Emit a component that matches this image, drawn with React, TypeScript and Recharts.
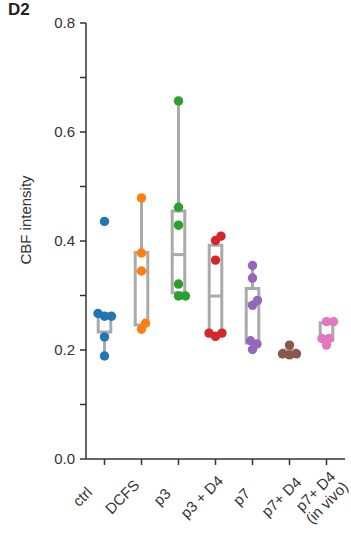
import { ComposedChart, Scatter, XAxis, YAxis, ReferenceArea, ReferenceLine } from "recharts";

const categories = ["ctrl", "DCFS", "p3", "p3 + D4", "p7", "p7+ D4", "p7+ D4\n(in vivo)"];
const colors = ["#1f77b4", "#ff7f0e", "#2ca02c", "#d62728", "#9467bd", "#8c564b", "#e377c2"];

const ctrlValues = [0.436, 0.262, 0.262, 0.267, 0.224, 0.189];
const dcfsValues = [0.479, 0.378, 0.345, 0.249, 0.238];
const p3Values = [0.657, 0.462, 0.429, 0.321, 0.299, 0.299];
const p3d4Values = [0.409, 0.401, 0.365, 0.231, 0.225, 0.231];
const p7Values = [0.355, 0.332, 0.291, 0.282, 0.217, 0.211, 0.201];
const p7d4Values = [0.209, 0.193, 0.191, 0.193];
const inVivoValues = [0.252, 0.252, 0.221, 0.221, 0.209];
const groups = [ctrlValues, dcfsValues, p3Values, p3d4Values, p7Values, p7d4Values, inVivoValues];

// box stats
const whiskerLow = [0.19, 0.238, 0.299, 0.225, 0.201, 0.191, 0.209];
const q1 = [0.233, 0.246, 0.305, 0.231, 0.213, 0.192, 0.218];
const median = [0.262, 0.345, 0.375, 0.299, 0.285, 0.193, 0.221];
const q3 = [0.267, 0.379, 0.455, 0.392, 0.313, 0.2, 0.25];
const whiskerHigh = [0.267, 0.479, 0.657, 0.409, 0.355, 0.209, 0.252];

const yTicks = [0, 0.1, 0.2, 0.3, 0.4, 0.5, 0.6, 0.7, 0.8];

const W = 351;
const H = 536;
const PX_PER_CAT = 37;
const PX_PER_UNIT = 545;
const BOX_HALF = 0.17;
const GRAY = "#aaaaaa";
const FONT = "'Liberation Sans', Arial, sans-serif";

// simple beeswarm: nudge overlapping points sideways
function swarm(values: number[], minDist = 7) {
  const order = values.map((v, i) => i).sort((a, b) => values[a] - values[b]);
  const placed: { x: number; y: number }[] = [];
  const offsets = new Array(values.length).fill(0);
  for (const i of order) {
    const y = values[i] * PX_PER_UNIT;
    let found = 0;
    outer: for (let s = 0; s < 40; s += 0.5) {
      for (const dx of s === 0 ? [0] : [s, -s]) {
        if (placed.every(p => Math.hypot(p.x - dx, p.y - y) >= minDist)) {
          found = dx;
          break outer;
        }
      }
    }
    placed.push({ x: found, y });
    offsets[i] = found / PX_PER_CAT;
  }
  return offsets;
}

// labels in the figure drift a little to the right of their ticks
function XTick({ x, y, payload }: any) {
  const idx = payload.value;
  const lines = categories[idx].split("\n");
  const dx = -22 + 2.8 * idx;
  return (
    <g transform={`translate(${x + dx},${y + 30}) rotate(-45)`}>
      <text textAnchor="middle" fontSize={15} fill="#333" fontFamily={FONT}>
        {lines.map((l, i) => (
          <tspan key={i} x={0} dy={i === 0 ? (lines.length > 1 ? -3 : 5) : 16}>{l}</tspan>
        ))}
      </text>
    </g>
  );
}

export default function App() {
  const series = groups.map((vals, gi) => {
    const off = swarm(vals);
    return vals.map((v, i) => ({ x: gi + off[i], y: v }));
  });

  return (
    <div style={{ position: "absolute", left: 0, top: 0, width: W, height: H, background: "#fff", fontFamily: FONT }}>
      <div style={{ position: "absolute", left: 8, top: 1, fontSize: 17, lineHeight: "17px", fontWeight: 700, color: "#222" }}>D2</div>
      <ComposedChart width={W} height={H} margin={{ top: 23, right: 6, bottom: 0, left: 0 }}>
        <XAxis
          type="number"
          dataKey="x"
          domain={[-0.5, 6.5]}
          ticks={[0, 1, 2, 3, 4, 5, 6]}
          height={77}
          tickSize={6}
          tick={<XTick />}
          stroke="#333"
          strokeWidth={1.5}
          interval={0}
        />
        <YAxis
          type="number"
          dataKey="y"
          domain={[0, 0.8]}
          ticks={yTicks}
          width={86}
          tickSize={6}
          tickMargin={5}
          interval={0}
          stroke="#333"
          strokeWidth={1.5}
          tick={{ fontSize: 15, fill: "#333", fontFamily: FONT }}
          tickFormatter={(v: number) => (Math.round(v * 10) % 2 === 0 ? v.toFixed(1) : "")}
          label={() => (
            <text x={31} y={220} transform="rotate(-90 31 220)" textAnchor="middle" fontSize={15} fill="#333" fontFamily={FONT}>
              CBF intensity
            </text>
          )}
        />
        {categories.map((c, i) => (
          <ReferenceLine
            key={"wl" + i}
            segment={[{ x: i, y: whiskerLow[i] }, { x: i, y: q1[i] }]}
            stroke={GRAY}
            strokeWidth={3}
            ifOverflow="visible"
          />
        ))}
        {categories.map((c, i) => (
          <ReferenceLine
            key={"wh" + i}
            segment={[{ x: i, y: q3[i] }, { x: i, y: whiskerHigh[i] }]}
            stroke={GRAY}
            strokeWidth={3}
            ifOverflow="visible"
          />
        ))}
        {categories.map((c, i) => (
          <ReferenceArea
            key={"box" + i}
            x1={i - BOX_HALF}
            x2={i + BOX_HALF}
            y1={q1[i]}
            y2={q3[i]}
            fill="none"
            fillOpacity={0}
            stroke={GRAY}
            strokeWidth={3}
            strokeOpacity={1}
            ifOverflow="visible"
          />
        ))}
        {categories.map((c, i) => (
          <ReferenceLine
            key={"med" + i}
            segment={[{ x: i - BOX_HALF, y: median[i] }, { x: i + BOX_HALF, y: median[i] }]}
            stroke={GRAY}
            strokeWidth={3}
            ifOverflow="visible"
          />
        ))}
        {series.map((d, gi) => (
          <Scatter
            key={gi}
            data={d}
            isAnimationActive={false}
            shape={(p: any) => <circle cx={p.cx} cy={p.cy} r={4.7} fill={colors[gi]} />}
          />
        ))}
      </ComposedChart>
    </div>
  );
}
